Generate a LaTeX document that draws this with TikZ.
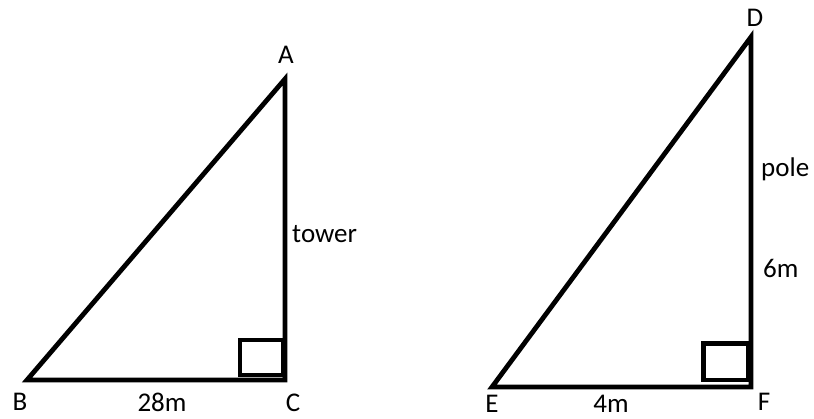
\documentclass[tikz,border=0pt]{standalone}
\usepackage{fontspec}
\setmainfont{Carlito}
\newcommand{\lblsize}{\fontsize{27}{32}\selectfont}

\begin{document}
\begin{tikzpicture}[x=1pt,y=-1pt,
  side/.style={line width=4.8pt},
  tag/.style={font=\lblsize, inner sep=0pt, anchor=base}]
\useasboundingbox (0,0) rectangle (814,419);
% tower triangle
\coordinate (A) at (285,79);
\coordinate (B) at (27,380);
\coordinate (C) at (285,380);
\draw[side] (A) -- (B) -- (C) -- cycle;
\draw[side] (240,340) rectangle (283,375);
% pole triangle
\coordinate (D) at (751,37);
\coordinate (E) at (492,387);
\coordinate (F) at (751,387);
\draw[side] (D) -- (E) -- (F) -- cycle;
\draw[side] (703.5,343.5) rectangle (748,380);
% labels
\node[tag] (labA) at (286,64) {A};
\node[tag] (labB) at (20,410) {B};
\node[tag] (labC) at (293,412) {C};
\node[tag] (base1) at (162,412) {28m};
\node[tag, anchor=base west] (side1) at (292,243) {tower};
\node[tag] (labD) at (755,27) {D};
\node[tag] (labE) at (492,413) {E};
\node[tag] (labF) at (764,410) {F};
\node[tag] (base2) at (611,413) {4m};
\node[tag, anchor=base west] (side2) at (761,177) {pole};
\node[tag, anchor=base west] (side3) at (763,278) {6m};
\end{tikzpicture}
\end{document}
